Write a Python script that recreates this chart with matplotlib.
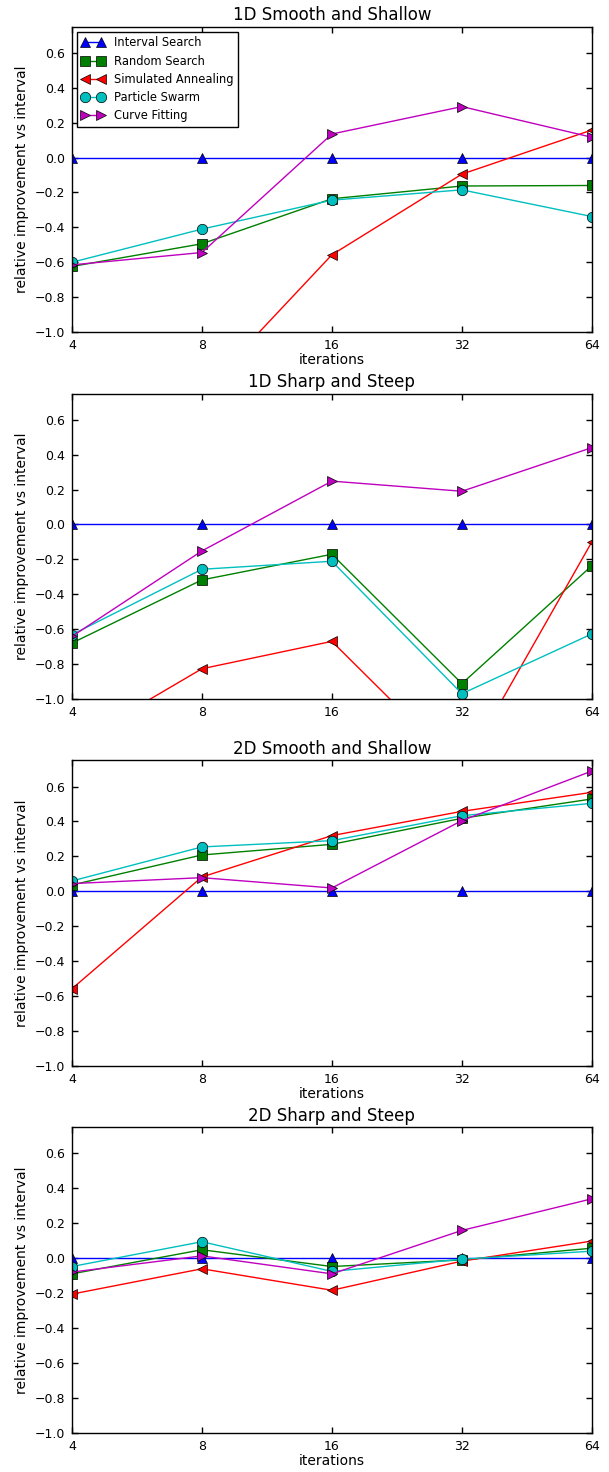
import matplotlib
matplotlib.use("Agg")
import matplotlib.pyplot as plt
from matplotlib.ticker import MultipleLocator, NullLocator

# x values (iterations, log2 axis)
iterations = [4, 8, 16, 32, 64]
tick_labels = ["4", "8", "16", "32", "64"]

titles = ["1D Smooth and Shallow", "1D Sharp and Steep",
          "2D Smooth and Shallow", "2D Sharp and Steep"]

methods = ["Interval Search", "Random Search", "Simulated Annealing",
           "Particle Swarm", "Curve Fitting"]

# relative improvement vs interval, one list per panel
interval_1d_smooth = [0.0, 0.0, 0.0, 0.0, 0.0]
random_1d_smooth = [-0.624, -0.494, -0.236, -0.163, -0.16]
anneal_1d_smooth = [-1.9, -1.35, -0.557, -0.095, 0.158]
swarm_1d_smooth = [-0.60, -0.41, -0.244, -0.185, -0.338]
curve_1d_smooth = [-0.615, -0.544, 0.135, 0.292, 0.116]

interval_1d_sharp = [0.0, 0.0, 0.0, 0.0, 0.0]
random_1d_sharp = [-0.68, -0.318, -0.171, -0.912, -0.236]
anneal_1d_sharp = [-1.264, -0.827, -0.67, -1.41, -0.099]
swarm_1d_sharp = [-0.632, -0.257, -0.211, -0.97, -0.627]
curve_1d_sharp = [-0.642, -0.152, 0.248, 0.19, 0.44]

interval_2d_smooth = [0.0, 0.0, 0.0, 0.0, 0.0]
random_2d_smooth = [0.036, 0.208, 0.269, 0.418, 0.529]
anneal_2d_smooth = [-0.559, 0.082, 0.319, 0.458, 0.567]
swarm_2d_smooth = [0.059, 0.254, 0.29, 0.433, 0.504]
curve_2d_smooth = [0.044, 0.078, 0.019, 0.405, 0.689]

interval_2d_sharp = [0.0, 0.0, 0.0, 0.0, 0.0]
random_2d_sharp = [-0.09, 0.048, -0.048, -0.01, 0.057]
anneal_2d_sharp = [-0.206, -0.061, -0.184, -0.017, 0.098]
swarm_2d_sharp = [-0.048, 0.094, -0.076, -0.006, 0.04]
curve_2d_sharp = [-0.08, 0.013, -0.09, 0.159, 0.34]

panels = [
    [interval_1d_smooth, random_1d_smooth, anneal_1d_smooth, swarm_1d_smooth, curve_1d_smooth],
    [interval_1d_sharp, random_1d_sharp, anneal_1d_sharp, swarm_1d_sharp, curve_1d_sharp],
    [interval_2d_smooth, random_2d_smooth, anneal_2d_smooth, swarm_2d_smooth, curve_2d_smooth],
    [interval_2d_sharp, random_2d_sharp, anneal_2d_sharp, swarm_2d_sharp, curve_2d_sharp],
]

# old-style look
colors = [(0, 0, 1), (0, 0.5, 0), (1, 0, 0), (0, 0.75, 0.75), (0.75, 0, 0.75)]
markers = ["^", "s", "<", "o", ">"]

plt.rcParams["font.family"] = "DejaVu Sans"
plt.rcParams["axes.unicode_minus"] = True

fig, axes = plt.subplots(4, 1, figsize=(6.09, 14.72), dpi=100)
plt.subplots_adjust(left=0.118, right=0.972, bottom=0.0267, top=0.9819, hspace=0.201)

for i, ax in enumerate(axes):
    for j in range(len(methods)):
        ax.plot(iterations, panels[i][j], color=colors[j], marker=markers[j],
                markersize=7.5, markeredgecolor="black", markeredgewidth=0.5,
                linewidth=1.0, label=methods[j])

    ax.set_xscale("log", base=2)
    ax.set_xlim(4, 64)
    ax.set_ylim(-1.0, 0.75)
    ax.set_xticks(iterations)
    ax.set_xticklabels(tick_labels)
    ax.xaxis.set_minor_locator(NullLocator())
    ax.yaxis.set_major_locator(MultipleLocator(0.2))
    ax.tick_params(direction="in", top=True, right=True, length=4, width=1,
                   labelsize=9, pad=5)
    for spine in ax.spines.values():
        spine.set_linewidth(1.0)

    ax.set_title(titles[i], fontsize=12, pad=4.5)
    ax.set_ylabel("relative improvement vs interval", fontsize=10)
    # second panel has no x label in the original
    if i != 1:
        ax.set_xlabel("iterations", fontsize=10, labelpad=1)

leg = axes[0].legend(loc="upper left", numpoints=2, fontsize=8.3, fancybox=False,
                     framealpha=1, handlelength=2.0, labelspacing=0.45,
                     borderaxespad=0.45)
leg.get_frame().set_edgecolor("black")
leg.get_frame().set_linewidth(1.0)

plt.savefig("out.png", dpi=100)
